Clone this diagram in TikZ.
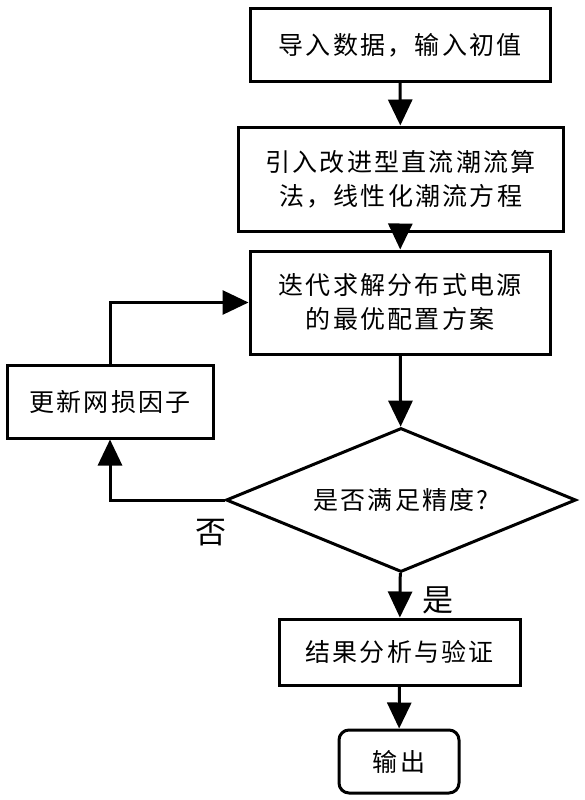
\documentclass[tikz,border=0pt]{standalone}
\usepackage{fontspec}
\newfontfamily\cjk[LetterSpace=9]{Noto Sans CJK SC}
\usetikzlibrary{shapes.geometric,arrows.meta}

\begin{document}
\begin{tikzpicture}[x=1pt, y=-1pt,
    >={Triangle[width=24pt,length=26pt]},
    every node/.style={font=\cjk\fontsize{25pt}{34pt}\selectfont},
    procbox/.style={draw, line width=3pt, align=center, inner sep=0pt},
    checkbox/.style={draw, diamond, aspect=2.43, line width=3pt, inner sep=0pt,
        minimum width=350pt, minimum height=144pt},
    branchlabel/.style={font=\cjk\fontsize{31pt}{34pt}\selectfont},
    flowline/.style={->, line width=3pt}]
    % 固定畫布大小
    \useasboundingbox (0,0) rectangle (584,800);

    % --- 主流程方框 ---
    \node[procbox, minimum width=300pt, minimum height=72pt] (load) at (400,45) {导入数据，输入初值};
    \node[procbox, minimum width=325pt, minimum height=104pt] (dcflow) at (400.5,179)
        {引入改进型直流潮流算\\法，线性化潮流方程};
    \node[procbox, minimum width=300pt, minimum height=103pt] (optim) at (400,302.5)
        {迭代求解分布式电源\\的最优配置方案};
    \node[procbox, minimum width=206pt, minimum height=73pt] (update) at (110,401.5) {更新网损因子};

    % --- 判斷 ---
    \node[checkbox] (check) at (401,500) {是否满足精度?};
    \node[branchlabel] (nolabel) at (211,533) {否};
    \node[branchlabel] (yeslabel) at (438,600) {是};

    % --- 結果與輸出 ---
    \node[procbox, minimum width=241pt, minimum height=66pt] (result) at (399.5,652) {结果分析与验证};
    \node[procbox, rounded corners=10pt, minimum width=120pt, minimum height=63pt] (output) at (399,761.5) {输出};

    % --- 連線 ---
    \draw[flowline] (load) -- (dcflow);
    \draw[flowline] (dcflow) -- (optim);
    \draw[flowline] (optim) -- (check);
    \draw[flowline] (check) -- (result);
    \draw[flowline] (result) -- (output);
    \draw[flowline] (check.west) -| (update.south);
    \draw[flowline] (update.north) |- (optim.west);
\end{tikzpicture}
\end{document}
